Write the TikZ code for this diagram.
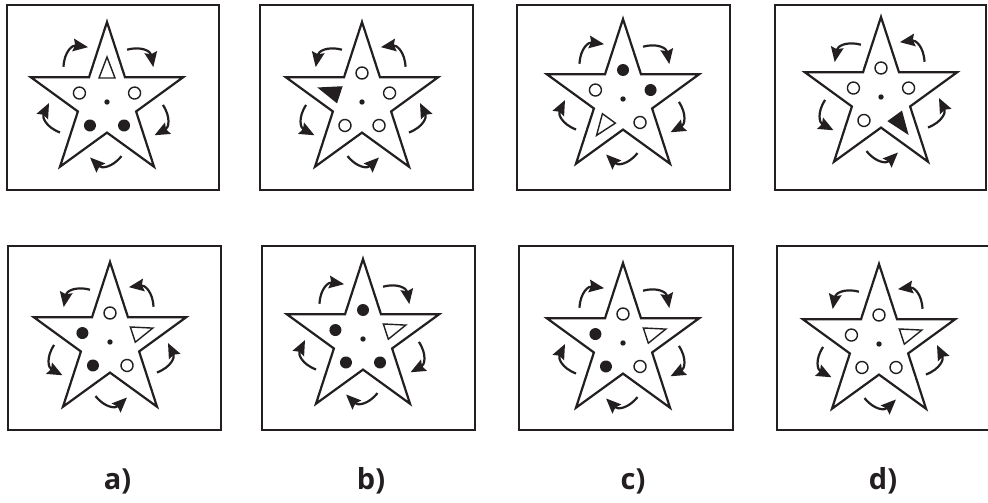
\documentclass[tikz,border=0pt]{standalone}
\usepackage{fontspec}
\newfontfamily\lblfont{Open Sans}
\usetikzlibrary{arrows.meta,calc}
\definecolor{ink}{RGB}{35,31,32}
\tikzset{
 panelbox/.style={draw=ink, line width=2.6pt},
 starline/.style={draw=ink, line width=2.2pt, line join=miter, fill=white},
 turnarrow/.style={draw=ink, line width=2.2pt, -{Stealth[length=15pt,width=12.5pt,inset=2pt]}},
 thinline/.style={draw=ink, line width=1.4pt},
 elo/.pic={\draw[thinline, fill=white] (0,0) circle (6);},
 elf/.pic={\fill[ink] (0,0) circle (6);},
 elt/.pic={\draw[thinline, line join=miter] (0,16) -- (-8,-5) -- (8,-5) -- cycle;},
 elT/.pic={\filldraw[thinline, fill=ink, line join=miter] (0,16) -- (-8,-5) -- (8,-5) -- cycle;},
 lbl/.style={font=\lblfont\bfseries\fontsize{29}{31}\selectfont, text=ink, anchor=base, inner sep=0pt},
}
% #1 x, #2 y (pixels, down), #3 direction (1 = clockwise, -1 = counter-clockwise), #4-#8 elements at top, upper-left, lower-left, lower-right, upper-right
\newcommand{\starpanel}[8]{%
 \begin{scope}[shift={(#1,-#2)}]
  \draw[starline] (90:80) -- (126:30.6) -- (162:80) -- (198:30.6) -- (234:80) -- (270:30.6) -- (306:80) -- (342:30.6) -- (18:80) -- (54:30.6) -- cycle;
  \fill[ink] (0,0) circle (2.7);
  \pic[rotate=0] at (90:29) {el#4};
  \pic[rotate=72] at (162:29) {el#5};
  \pic[rotate=144] at (234:29) {el#6};
  \pic[rotate=216] at (306:29) {el#7};
  \pic[rotate=-72] at (18:29) {el#8};
  \foreach \p in {54,126,198,270,342}{
   \coordinate (as) at ({\p+15*(#3)}:56);
   \coordinate (ae) at ({\p-17*(#3)}:58);
   \coordinate (ac) at (\p:72);
   \draw[turnarrow] (as) .. controls ($(as)!0.667!(ac)$) and ($(ae)!0.667!(ac)$) .. (ae);
  }
 \end{scope}}
\begin{document}
\begin{tikzpicture}[x=1pt,y=1pt]
\useasboundingbox (0,0) rectangle (988,-503);
\clip (0,0) rectangle (988,-503);
\fill[white] (0,0) rectangle (988,-503);
% boxes, top row
\draw[panelbox] (7,-5) rectangle (219,-190);
\draw[panelbox] (260,-5) rectangle (473,-190);
\draw[panelbox] (517,-5) rectangle (730,-190);
\draw[panelbox] (775,-5) rectangle (986,-190);
% boxes, bottom row
\draw[panelbox] (8,-246) rectangle (221,-430);
\draw[panelbox] (262,-246) rectangle (475,-430);
\draw[panelbox] (519,-246) rectangle (733,-430);
\draw[panelbox] (777,-246) rectangle (995,-430);
% stars
\starpanel{107}{102}{1}{t}{o}{f}{f}{o}
\starpanel{362}{102}{-1}{o}{T}{o}{o}{o}
\starpanel{623}{99}{1}{f}{o}{t}{o}{f}
\starpanel{881}{97}{-1}{o}{o}{o}{T}{o}
\starpanel{110}{342}{-1}{o}{f}{f}{o}{t}
\starpanel{363}{339}{1}{f}{f}{f}{f}{t}
\starpanel{623}{343}{1}{o}{f}{f}{o}{t}
\starpanel{879}{344}{-1}{o}{o}{o}{o}{t}
% labels
\node[lbl] (la) at (117.5,-489) {a)};
\node[lbl] (lb) at (371,-489) {b)};
\node[lbl] (lc) at (633,-489) {c)};
\node[lbl] (ld) at (883,-489) {d)};
\end{tikzpicture}
\end{document}
